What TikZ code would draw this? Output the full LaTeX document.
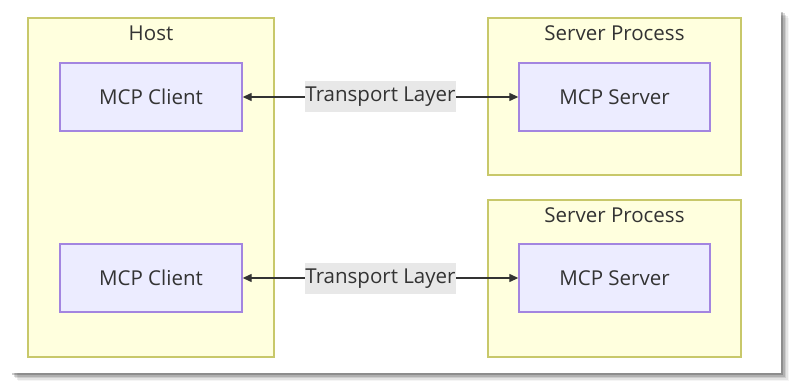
\documentclass[tikz,border=0pt]{standalone}
\usepackage{fontspec}
\setmainfont{Open Sans}
\usetikzlibrary{positioning,arrows.meta}
\definecolor{groupfill}{HTML}{FFFFDE}
\definecolor{groupline}{HTML}{C8C86A}
\definecolor{procfill}{HTML}{ECECFF}
\definecolor{procline}{HTML}{A385E0}
\definecolor{inktext}{HTML}{333333}
\definecolor{labelfill}{HTML}{E8E8E8}
\tikzset{
  linkarrow/.style={{Triangle[length=9pt,width=8pt]}-{Triangle[length=9pt,width=8pt]}, line width=1.3pt, draw=inktext},
  groupbox/.style={draw=groupline, fill=groupfill, line width=1.4pt},
  grouptitle/.style={font=\fontsize{20.5}{24}\selectfont, text=inktext, anchor=north, inner sep=0pt},
  procbox/.style={draw=procline, fill=procfill, line width=1.4pt, minimum height=68pt, font=\fontsize{20.5}{24}\selectfont, text=inktext},
  linklabel/.style={fill=labelfill, font=\fontsize{20.5}{24}\selectfont, text=inktext, inner xsep=0.5pt, inner ysep=6pt, text height=14.5pt, text depth=4.5pt}
}
\begin{document}
\begin{tikzpicture}[x=1pt, y=-1pt]
  \useasboundingbox (0,0) rectangle (793,385);
  % card with shadow
  \foreach \o/\op in {8/0.04, 6.5/0.07, 5/0.1, 3.5/0.14, 2/0.2}
    \fill[black, opacity=\op] (10+\o,10+\o) rectangle (781+\o,373+\o);
  \fill[white] (10,10) rectangle (781,373);
  % groups
  \node[groupbox, minimum width=246pt, minimum height=339pt] (host) at (151,187.5) {};
  \node[groupbox, minimum width=253pt, minimum height=157pt] (proc1) at (614.5,96.5) {};
  \node[groupbox, minimum width=253pt, minimum height=157pt] (proc2) at (614.5,278.5) {};
  \node[grouptitle] (hostlbl) at ([yshift=-8.5pt]host.north) {Host};
  \node[grouptitle] (proc1lbl) at ([yshift=-8.5pt]proc1.north) {Server Process};
  \node[grouptitle] (proc2lbl) at ([yshift=-8.5pt]proc2.north) {Server Process};
  % clients and servers
  \node[procbox, minimum width=182pt] (client1) at (151,97) {MCP Client};
  \node[procbox, minimum width=182pt] (client2) at (151,278) {MCP Client};
  \node[procbox, minimum width=191pt] (server1) at (614.5,97) {MCP Server};
  \node[procbox, minimum width=191pt] (server2) at (614.5,278) {MCP Server};
  \draw[linkarrow] (client1) -- node[linklabel] (link1) {Transport Layer} (server1);
  \draw[linkarrow] (client2) -- node[linklabel] (link2) {Transport Layer} (server2);
\end{tikzpicture}
\end{document}
